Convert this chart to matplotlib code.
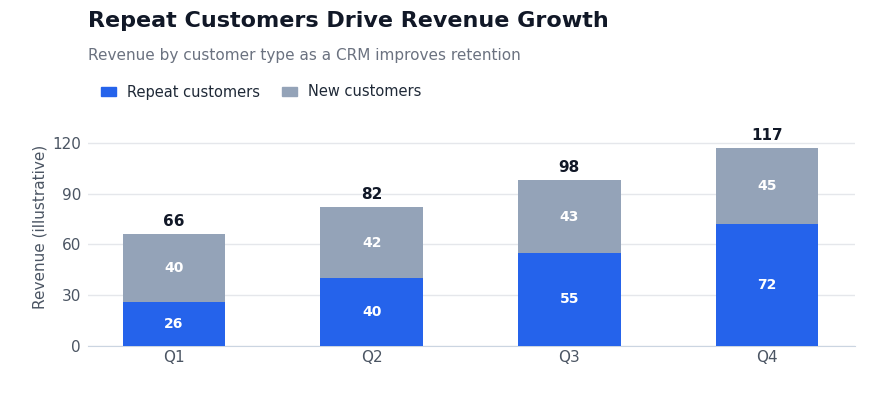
import matplotlib
matplotlib.use("Agg")
import matplotlib.pyplot as plt
from matplotlib.patches import Patch
import numpy as np

quarters = ["Q1", "Q2", "Q3", "Q4"]
repeat = [26, 40, 55, 72]
new = [40, 42, 43, 45]
yticks = [0, 30, 60, 90, 120]

blue = "#2563eb"
gray = "#94a3b8"

fig = plt.figure(figsize=(8.76, 4.0), dpi=100)
# y=0 at 346px, 120 at 143px
ymax = 140.4
top_px = 346 - ymax * (203 / 120)
ax = fig.add_axes([0.1005, 0.135, 0.8755, (346 - top_px) / 400])

x = np.arange(len(quarters))
w = 0.52
ax.bar(x, repeat, w, color=blue, zorder=3)
ax.bar(x, new, w, bottom=repeat, color=gray, zorder=3)

for xi, r, n in zip(x, repeat, new):
    ax.text(xi, r / 2, str(r), ha="center", va="center", color="white",
            fontsize=10, fontweight="bold", zorder=4)
    ax.text(xi, r + n / 2, str(n), ha="center", va="center", color="white",
            fontsize=10, fontweight="bold", zorder=4)
    ax.text(xi, r + n + 3, str(r + n), ha="center", va="bottom", color="#111827",
            fontsize=11, fontweight="bold", zorder=4)

ax.set_xlim(-0.435, 3.445)
ax.set_ylim(0, ymax)
ax.set_yticks(yticks)
ax.set_xticks(x)
ax.set_xticklabels(quarters)
ax.tick_params(axis="both", length=0, labelsize=11, labelcolor="#4b5563")
ax.tick_params(axis="y", pad=5)
ax.tick_params(axis="x", pad=3)
ax.grid(axis="y", color="#e5e7eb", linewidth=1, zorder=0)
for s in ["top", "right", "left"]:
    ax.spines[s].set_visible(False)
ax.spines["bottom"].set_color("#cbd5e1")
ax.set_ylabel("Revenue (illustrative)", fontsize=11, color="#4b5563", labelpad=3.5)

fig.text(0.1005, 0.947, "Repeat Customers Drive Revenue Growth", fontsize=16,
         fontweight="bold", color="#111827", ha="left", va="center")
fig.text(0.1005, 0.862, "Revenue by customer type as a CRM improves retention",
         fontsize=11, color="#6b7280", ha="left", va="center")

handles = [Patch(color=blue, label="Repeat customers"),
           Patch(color=gray, label="New customers")]
leg = fig.legend(handles=handles, loc="center left", bbox_to_anchor=(0.1153, 0.77),
                 ncol=2, frameon=False, prop={"family": "DejaVu Sans", "size": 10.5},
                 handlelength=1.05, handleheight=0.62, columnspacing=1.5,
                 handletextpad=0.75, borderpad=0, borderaxespad=0)
for t in leg.get_texts():
    t.set_color("#1f2937")

fig.savefig("out.png", dpi=100)
